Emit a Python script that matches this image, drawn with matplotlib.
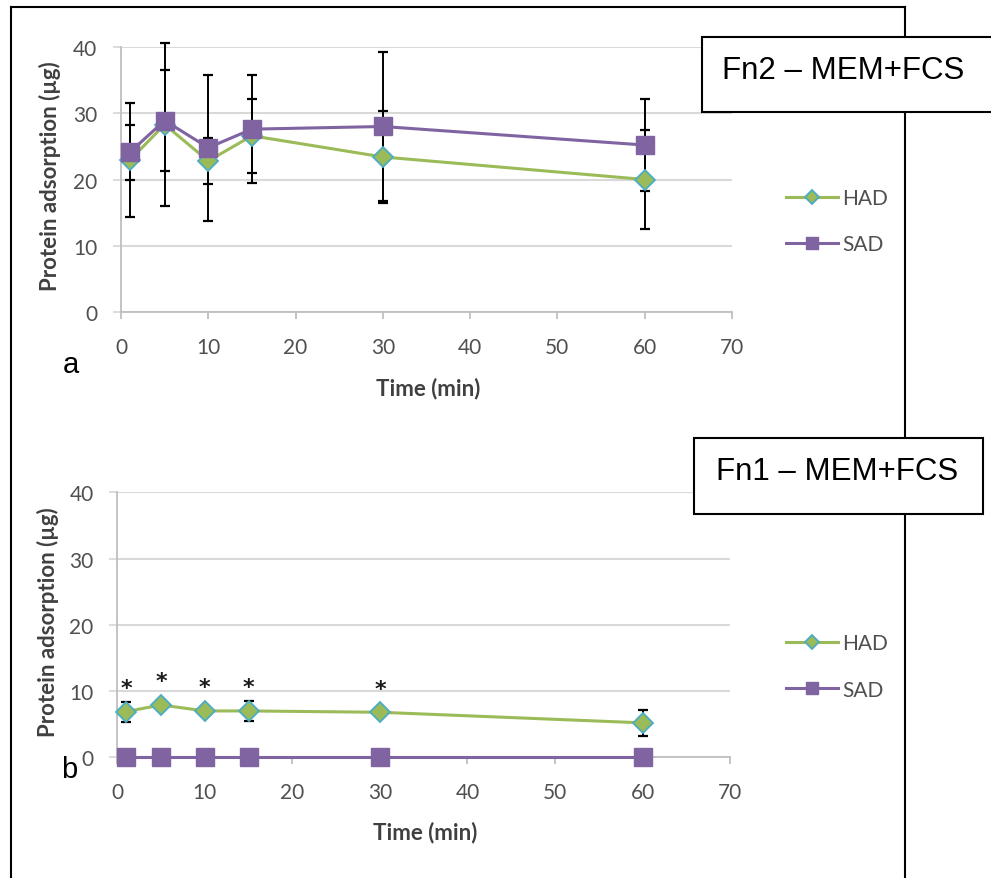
import matplotlib.pyplot as plt
from matplotlib.patches import Rectangle
from matplotlib.lines import Line2D

# time points (min)
times = [1, 5, 10, 15, 30, 60]

# panel a: Fn2 - MEM+FCS
had_fn2 = [22.9, 28.3, 22.8, 26.6, 23.4, 20.0]
had_fn2_err = [8.6, 12.3, 3.5, 5.6, 7.0, 7.4]
sad_fn2 = [24.1, 28.9, 24.8, 27.6, 28.0, 25.2]
sad_fn2_err = [4.1, 7.6, 11.0, 8.1, 11.2, 7.0]

# panel b: Fn1 - MEM+FCS
had_fn1 = [6.9, 7.9, 7.0, 7.0, 6.8, 5.2]
had_fn1_err = [1.5, 0.8, 0.5, 1.5, 0.4, 2.0]
sad_fn1 = [0, 0, 0, 0, 0, 0]
sad_fn1_err = [0, 0, 0, 0, 0, 0]
star_times = [1, 5, 10, 15, 30]

GREEN = '#9BBB59'
PURPLE = '#8064A2'
EDGE = '#4BACC6'
GRID = '#D9D9D9'
AXC = '#BFBFBF'
TXT = '#505050'

plt.rcParams['font.family'] = ['Lato', 'DejaVu Sans']

fig = plt.figure(figsize=(9.91, 8.79), dpi=100)


def draw_panel(ax, had, had_err, sad, sad_err, legend_y, xlab_y, ylab_x):
    ax.errorbar(times, had, yerr=had_err, fmt='none', ecolor='black',
                elinewidth=1.4, capsize=3.6, capthick=1.6, zorder=2, clip_on=False)
    ax.errorbar(times, sad, yerr=sad_err, fmt='none', ecolor='black',
                elinewidth=1.4, capsize=3.6, capthick=1.6, zorder=2, clip_on=False)
    ax.plot(times, had, color=GREEN, lw=2.2, marker='D', ms=10,
            mfc=GREEN, mec=EDGE, mew=1.3, label='HAD', zorder=3, clip_on=False)
    ax.plot(times, sad, color=PURPLE, lw=2.2, marker='s', ms=13,
            mfc=PURPLE, mec=PURPLE, label='SAD', zorder=4, clip_on=False)

    ax.set_xlim(0, 70)
    ax.set_ylim(0, 40)
    ax.set_xticks(range(0, 71, 10))
    ax.set_yticks(range(0, 41, 10))
    ax.yaxis.grid(True, color=GRID, lw=1.5)
    ax.set_axisbelow(True)
    for s in ['top', 'right']:
        ax.spines[s].set_visible(False)
    for s in ['left', 'bottom']:
        ax.spines[s].set_color(AXC)
        ax.spines[s].set_linewidth(1.3)
    ax.tick_params(axis='y', length=6, width=1.3, color=GRID, pad=11,
                   labelsize=15, labelcolor=TXT)
    ax.tick_params(axis='x', length=5, width=1.3, color=AXC, pad=13,
                   labelsize=15, labelcolor=TXT)
    ax.set_xlabel('Time (min)', fontsize=16, fontweight='bold', color='#404040')
    ax.set_ylabel('Protein adsorption (µg)', fontsize=16, fontweight='bold', color='#404040')
    ax.xaxis.set_label_coords(0.503, xlab_y)
    ax.yaxis.set_label_coords(ylab_x, 0.515)

    leg = ax.legend(loc='center left', bbox_to_anchor=(0.793, legend_y),
                    bbox_transform=fig.transFigure, frameon=False, fontsize=15,
                    handlelength=2.5, handletextpad=0.2, labelspacing=1.25,
                    borderpad=0, borderaxespad=0, markerscale=0.7)
    for t in leg.get_texts():
        t.set_color(TXT)


ax1 = fig.add_axes([0.1221, 0.6439, 0.6165, 0.3015])
draw_panel(ax1, had_fn2, had_fn2_err, sad_fn2, sad_fn2_err, 0.7469, -0.245, -0.098)

ax2 = fig.add_axes([0.1184, 0.1373, 0.6183, 0.3015])
draw_panel(ax2, had_fn1, had_fn1_err, sad_fn1, sad_fn1_err, 0.2406, -0.240, -0.095)

# significance stars above HAD points
for t in star_times:
    v = had_fn1[times.index(t)]
    ax2.annotate('*', (t, v), xytext=(0, 17), textcoords='offset points',
                 ha='center', va='center', fontsize=16, color='#1a1a1a',
                 fontweight='bold', family='DejaVu Sans')

# outer frame
W, H = 991.0, 879.0
def fx(px):
    return px / W
def fy(py):
    return 1 - py / H

frame_kw = dict(color='black', lw=1.5, transform=fig.transFigure, zorder=1)
fig.lines.append(Line2D([fx(11), fx(11)], [fy(8), fy(880)], **frame_kw))
fig.lines.append(Line2D([fx(905), fx(905)], [fy(8), fy(880)], **frame_kw))
fig.lines.append(Line2D([fx(11), fx(905)], [fy(8), fy(8)], **frame_kw))

# title boxes
for (x0, y0, x1, y1), txt, tx, ty in [((702, 38, 993, 113), 'Fn2 – MEM+FCS', 722, 79),
                                      ((694, 439, 983, 515), 'Fn1 – MEM+FCS', 716, 480)]:
    fig.patches.append(Rectangle((fx(x0), fy(y1)), fx(x1) - fx(x0), fy(y0) - fy(y1),
                                 transform=fig.transFigure, facecolor='white',
                                 edgecolor='black', lw=1.5, zorder=5))
    fig.text(fx(tx), fy(ty), txt, fontsize=22.5, family='Liberation Sans',
             va='baseline', ha='left', zorder=6)

fig.text(fx(63), fy(373), 'a', fontsize=21, family='Liberation Sans', va='baseline')
fig.text(fx(61), fy(778), 'b', fontsize=21, family='Liberation Sans', va='baseline')

fig.savefig('out.png', dpi=100)
